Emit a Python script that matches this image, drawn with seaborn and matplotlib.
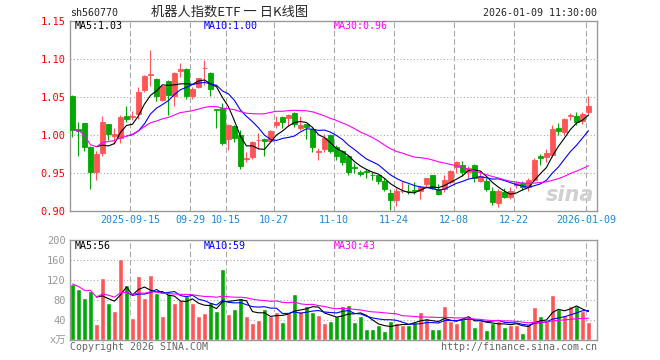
import numpy as np
import pandas as pd
import matplotlib
matplotlib.use("Agg")
import matplotlib.pyplot as plt
import seaborn as sns

# daily candles, index 0 = 2025-09-01 ... index 86 = 2026-01-09
opens = [1.052, 1.008, 1.016, 0.985, 0.951, 0.976, 1.015, 0.999, 0.996, 1.025,
         1.024, 1.028, 1.059, 1.079, 1.074, 1.047, 1.071, 1.051, 1.084, 1.087,
         1.052, 1.064, 1.088, 1.082, 1.034, 1.036, 0.995, 1.012, 1.000, 0.969,
         0.971, 0.993, 0.995, 0.992, 1.014, 1.024, 1.022, 1.029, 1.009, 1.0145,
         1.008, 0.978, 0.982, 1.000, 0.984, 0.979, 0.973, 0.958, 0.951, 0.953,
         0.948, 0.947, 0.939, 0.924, 0.915, 0.926, 0.927, 0.928, 0.926, 0.936,
         0.948, 0.929, 0.929, 0.938, 0.958, 0.961, 0.952, 0.961, 0.940, 0.939,
         0.927, 0.910, 0.925, 0.918, 0.934, 0.937, 0.932, 0.941, 0.972, 0.971,
         0.974, 1.009, 1.004, 1.025, 1.025, 1.019, 1.030]
highs = [1.053, 1.017, 1.016, 0.986, 0.979, 1.025, 1.015, 1.009, 1.026, 1.039,
         1.032, 1.063, 1.079, 1.112, 1.075, 1.066, 1.073, 1.083, 1.095, 1.088,
         1.064, 1.076, 1.099, 1.083, 1.034, 1.043, 1.015, 1.013, 1.007, 0.978,
         0.992, 1.003, 0.996, 1.007, 1.025, 1.025, 1.028, 1.031, 1.025, 1.015,
         1.009, 0.983, 1.001, 1.002, 0.987, 0.981, 0.974, 0.963, 0.954, 0.955,
         0.951, 0.948, 0.944, 0.929, 0.930, 0.939, 0.935, 0.938, 0.933, 0.944,
         0.948, 0.935, 0.948, 0.954, 0.966, 0.966, 0.959, 0.962, 0.953, 0.944,
         0.931, 0.929, 0.930, 0.932, 0.939, 0.939, 0.943, 0.970, 0.975, 0.982,
         1.013, 1.016, 1.022, 1.029, 1.031, 1.031, 1.052]
lows = [0.998, 0.973, 0.979, 0.929, 0.941, 0.973, 0.994, 0.989, 0.990, 1.018,
        1.020, 1.021, 1.057, 1.065, 1.045, 1.045, 1.027, 1.038, 1.077, 1.048,
        1.048, 1.062, 1.066, 1.051, 1.009, 0.987, 0.981, 0.991, 0.956, 0.965,
        0.969, 0.982, 0.973, 0.991, 1.009, 1.010, 1.012, 1.011, 1.007, 0.995,
        0.978, 0.967, 0.978, 0.976, 0.967, 0.961, 0.948, 0.950, 0.946, 0.943,
        0.941, 0.935, 0.927, 0.901, 0.907, 0.924, 0.923, 0.923, 0.916, 0.930,
        0.929, 0.921, 0.925, 0.935, 0.950, 0.946, 0.943, 0.938, 0.938, 0.926,
        0.908, 0.905, 0.917, 0.916, 0.930, 0.928, 0.927, 0.939, 0.960, 0.964,
        0.971, 1.000, 1.000, 1.020, 1.014, 1.015, 1.027]
closes = [1.007, 1.006, 0.985, 0.951, 0.975, 1.017, 1.001, 1.001, 1.024, 1.021,
          1.025, 1.057, 1.078, 1.081, 1.051, 1.065, 1.053, 1.082, 1.087, 1.052,
          1.061, 1.075, 1.089, 1.061, 1.033, 0.990, 1.014, 0.996, 0.959, 0.970,
          0.991, 0.994, 0.992, 1.006, 1.018, 1.017, 1.027, 1.015, 1.013, 1.011,
          0.985, 0.979, 0.996, 0.979, 0.973, 0.965, 0.952, 0.957, 0.949, 0.951,
          0.947, 0.939, 0.929, 0.914, 0.926, 0.927, 0.926, 0.927, 0.932, 0.943,
          0.930, 0.922, 0.941, 0.953, 0.964, 0.952, 0.957, 0.944, 0.946, 0.929,
          0.912, 0.926, 0.918, 0.926, 0.937, 0.932, 0.941, 0.967, 0.970, 0.977,
          1.008, 1.005, 1.021, 1.027, 1.018, 1.028, 1.038]
# volume in 万
volumes = [112, 102, 84, 99, 32, 124, 74, 59, 162, 111,
           45, 128, 84, 130, 94, 48, 92, 75, 81, 89,
           74, 49, 55, 77, 59, 142, 53, 63, 85, 49,
           34, 41, 63, 49, 57, 36, 55, 93, 59, 69,
           57, 51, 34, 39, 48, 68, 71, 36, 48, 23,
           23, 31, 19, 39, 35, 31, 31, 37, 57, 45,
           23, 23, 68, 39, 35, 43, 48, 27, 39, 21,
           35, 39, 27, 31, 31, 15, 31, 66, 49, 39,
           90, 63, 51, 68, 69, 59, 37]

tick_idx = [10, 20, 26, 34, 44, 54, 64, 74, 86]
tick_labels = ["2025-09-15", "09-29", "10-15", "10-27", "11-10",
               "11-24", "12-08", "12-22", "2026-01-09"]
price_ticks = [0.90, 0.95, 1.00, 1.05, 1.10, 1.15]
vol_ticks = [0, 40, 80, 120, 160, 200]
vol_tick_labels = ["x万", "40", "80", "120", "160", "200"]

df = pd.DataFrame({"open": opens, "high": highs, "low": lows,
                   "close": closes, "vol": volumes})
df["x"] = np.arange(len(df))
df["ma5"] = df["close"].rolling(5).mean()
df["ma10"] = df["close"].rolling(10).mean()
df["ma30"] = df["close"].rolling(30, min_periods=1).mean()
df["vma5"] = df["vol"].rolling(5).mean()
df["vma10"] = df["vol"].rolling(10).mean()
df["vma30"] = df["vol"].rolling(30, min_periods=1).mean()

RED = "#ff5555"
GREEN = "#00a800"
GRID = "#aaaaaa"
FRAME = "#999999"
colors = np.where(df["close"] >= df["open"], RED, GREEN)

sns.set_style("white")
plt.rcParams["font.family"] = ["DejaVu Sans Mono", "Noto Sans CJK SC"]

W, H = 660, 360
fig = plt.figure(figsize=(6.6, 3.6), dpi=100)
ax = fig.add_axes([70 / W, 149 / H, 527 / W, 189.6 / H])
axv = fig.add_axes([70 / W, 20 / H, 527 / W, 100 / H])

bw = 0.83
half = bw / 2
xmin, xmax = -half, -half + 527 / 6

for a in (ax, axv):
    a.set_xlim(xmin, xmax)
    for s in a.spines.values():
        s.set_color(FRAME)
        s.set_linewidth(1.0)
    for t in tick_idx:
        a.axvline(t - half, color=GRID, lw=0.8, ls=(0, (5, 2.5)), zorder=0)
    a.tick_params(length=0)

# candles
ax.vlines(df["x"], df["low"], df["high"], color=colors, lw=0.8, zorder=2)
body_bottom = np.minimum(df["open"], df["close"])
body_h = np.abs(df["close"] - df["open"])
ax.bar(df["x"], body_h, bottom=body_bottom, width=bw, color=colors,
       edgecolor=colors, linewidth=0.6, zorder=3)

sns.lineplot(data=df, x="x", y="ma5", ax=ax, color="black", lw=0.8, zorder=4)
sns.lineplot(data=df, x="x", y="ma10", ax=ax, color="#0000ff", lw=0.8, zorder=4)
sns.lineplot(data=df, x="x", y="ma30", ax=ax, color="#ff00ff", lw=0.8, zorder=4)

ax.set_ylim(0.90, 1.15)
ax.set_yticks(price_ticks)
ax.set_yticklabels([f"{v:.2f}" for v in price_ticks], color="red", fontsize=7.5)
for v in price_ticks[1:-1]:
    ax.axhline(v, color=GRID, lw=0.8, ls=(0, (1, 2)), zorder=0)
ax.set_xticks([t - half for t in tick_idx])
ax.set_xticklabels(tick_labels, color="#1a88d8", fontsize=7.2)
ax.tick_params(axis="y", pad=3)
ax.tick_params(axis="x", pad=3)
ax.set_xlabel("")
ax.set_ylabel("")

# volume
axv.bar(df["x"], df["vol"], width=bw, color=colors, zorder=2)
sns.lineplot(data=df, x="x", y="vma5", ax=axv, color="black", lw=0.8, zorder=4)
sns.lineplot(data=df, x="x", y="vma10", ax=axv, color="#0000ff", lw=0.8, zorder=4)
sns.lineplot(data=df, x="x", y="vma30", ax=axv, color="#ff00ff", lw=0.8, zorder=4)
axv.set_ylim(0, 200)
axv.set_yticks(vol_ticks)
axv.set_yticklabels(vol_tick_labels, color="#999999", fontsize=7.5)
for v in vol_ticks[1:-1]:
    axv.axhline(v, color=GRID, lw=0.8, ls=(0, (1, 2)), zorder=0)
axv.set_xticks([])
axv.tick_params(axis="y", pad=3)
axv.set_xlabel("")
axv.set_ylabel("")

# watermark
ax.text(0.995, 0.03, "sina", transform=ax.transAxes, ha="right", va="bottom",
        fontsize=15, color="#d0d0d0", fontstyle="italic", fontweight="bold",
        family="DejaVu Sans", zorder=1)


def ftext(x, y, s, **kw):
    fig.text(x / W, 1 - y / H, s, va="center", **kw)


ftext(70, 13, "sh560770", ha="left", fontsize=7.2)
ftext(230, 12, "机器人指数ETF 一 日K线图", ha="center", fontsize=9.5,
      family=["Noto Sans CJK SC", "DejaVu Sans"])
ftext(597, 13, "2026-01-09 11:30:00", ha="right", fontsize=7.2)

ftext(75, 26, "MA5:1.03", ha="left", fontsize=7.2, color="black")
ftext(204, 26, "MA10:1.00", ha="left", fontsize=7.2, color="#0000ff")
ftext(334, 26, "MA30:0.96", ha="left", fontsize=7.2, color="#ff00ff")

ftext(75, 246, "MA5:56", ha="left", fontsize=7.2, color="black")
ftext(204, 246, "MA10:59", ha="left", fontsize=7.2, color="#0000ff")
ftext(334, 246, "MA30:43", ha="left", fontsize=7.2, color="#ff00ff")

ftext(70, 347, "Copyright 2026 SINA.COM", ha="left", fontsize=7.2, color="#666666")
ftext(597, 347, "http://finance.sina.com.cn", ha="right", fontsize=7.2, color="#666666")

fig.savefig("out.png", dpi=100)
